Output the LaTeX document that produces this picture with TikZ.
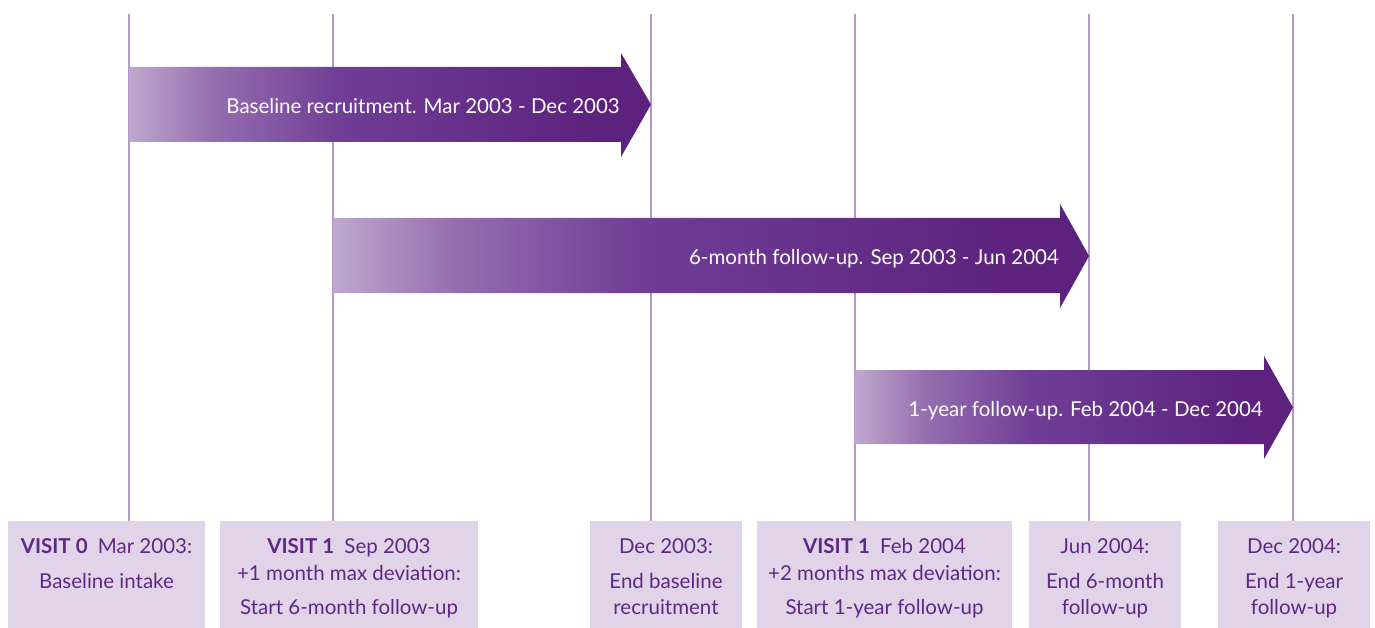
\documentclass[tikz,border=0pt]{standalone}
\usepackage{fontspec}
\setmainfont{Lato}
\definecolor{dpurple}{RGB}{92,34,126}
\definecolor{tpurple}{RGB}{94,40,132}
\definecolor{boxfill}{RGB}{225,212,233}
\definecolor{vline}{RGB}{183,151,202}
\definecolor{aL}{RGB}{190,168,206}
\definecolor{aM}{RGB}{150,110,175}
\definecolor{aM2}{RGB}{112,62,150}
\pgfdeclarehorizontalshading{arrowshade}{100bp}{color(0bp)=(aL); color(25bp)=(aL); color(33bp)=(aM); color(45bp)=(aM2); color(70bp)=(dpurple); color(100bp)=(dpurple)}
\begin{document}
\begin{tikzpicture}[x=1pt,y=-1pt,
  vln/.style={draw=vline,line width=2.5pt},
  bx/.style={fill=boxfill,draw=none,inner sep=0pt,anchor=north west,minimum height=107pt},
  btxt/.style={text=tpurple,font=\fontsize{20.5}{24}\selectfont,anchor=base,inner sep=0pt},
  atxt/.style={text=white,font=\fontsize{20.5}{24}\selectfont,anchor=base east,inner sep=0pt},
  arrowbody/.style={shading=arrowshade}]
\useasboundingbox (0,0) rectangle (1375,628);
% boxes
\node[bx,minimum width=197pt] (b1) at (8,521) {};
\node[bx,minimum width=258pt] (b2) at (220,521) {};
\node[bx,minimum width=152pt] (b3) at (590,521) {};
\node[bx,minimum width=255pt] (b4) at (757,521) {};
\node[bx,minimum width=152pt] (b5) at (1029,521) {};
\node[bx,minimum width=152pt] (b6) at (1218,521) {};
% vertical lines
\coordinate (v1) at (129,14);
\coordinate (v2) at (333,14);
\coordinate (v3) at (651,14);
\coordinate (v4) at (855,14);
\coordinate (v5) at (1089,14);
\coordinate (v6) at (1293,14);
\draw[vln] (v1) -- (v1 |- b1.north);
\draw[vln] (v2) -- (v2 |- b2.north);
\draw[vln] (v3) -- (v3 |- b3.north);
\draw[vln] (v4) -- (v4 |- b4.north);
\draw[vln] (v5) -- (v5 |- b5.north);
\draw[vln] (v6) -- (v6 |- b6.north);
% arrows
\shade[arrowbody] (129,67) -- (621,67) -- (621,53) -- (651,104.5) -- (621,157) -- (621,142) -- (129,142) -- cycle;
\shade[arrowbody] (333,218) -- (1060,218) -- (1060,204) -- (1089,256) -- (1060,308) -- (1060,293) -- (333,293) -- cycle;
\shade[arrowbody] (855,370) -- (1264,370) -- (1264,356) -- (1293,407.5) -- (1264,459) -- (1264,444) -- (855,444) -- cycle;
\node[atxt] (a1) at (620,114) {Baseline recruitment. Mar 2003 - Dec 2003};
\node[atxt] (a2) at (1059,265) {6-month follow-up. Sep 2003 - Jun 2004};
\node[atxt] (a3) at (1263,416) {1-year follow-up. Feb 2004 - Dec 2004};
% box texts
\node[btxt] (t1a) at (106.5,553) {\textbf{VISIT 0}\enspace Mar 2003:};
\node[btxt] (t1b) at (106.5,588) {Baseline intake};
\node[btxt] (t2a) at (349,553) {\textbf{VISIT 1}\enspace Sep 2003};
\node[btxt] (t2b) at (349,580) {+1 month max deviation:};
\node[btxt] (t2c) at (349,614) {Start 6-month follow-up};
\node[btxt] (t3a) at (666,553) {Dec 2003:};
\node[btxt] (t3b) at (666,588) {End baseline};
\node[btxt] (t3c) at (666,614) {recruitment};
\node[btxt] (t4a) at (884.5,553) {\textbf{VISIT 1}\enspace Feb 2004};
\node[btxt] (t4b) at (884.5,580) {+2 months max deviation:};
\node[btxt] (t4c) at (884.5,614) {Start 1-year follow-up};
\node[btxt] (t5a) at (1105,553) {Jun 2004:};
\node[btxt] (t5b) at (1105,588) {End 6-month};
\node[btxt] (t5c) at (1105,614) {follow-up};
\node[btxt] (t6a) at (1294,553) {Dec 2004:};
\node[btxt] (t6b) at (1294,588) {End 1-year};
\node[btxt] (t6c) at (1294,614) {follow-up};
\end{tikzpicture}
\end{document}
